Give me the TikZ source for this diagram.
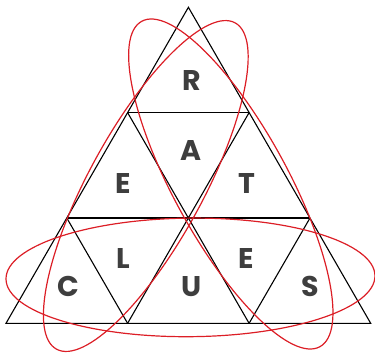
\documentclass[tikz,border=0pt]{standalone}
\usepackage{fontspec}
\setmainfont{Poppins}
\usetikzlibrary{positioning}
\definecolor{clueRed}{RGB}{220,30,38}
\definecolor{letterGray}{RGB}{62,62,62}

\begin{document}
\begin{tikzpicture}[x=1pt,y=-1pt,
  grid line/.style={draw=black, line width=1.1pt},
  ring line/.style={draw=clueRed, line width=1.2pt},
  letter node/.style={font=\bfseries\fontsize{28.5}{28.5}\selectfont,
    text=letterGray, inner sep=0pt}
  ]
  \useasboundingbox (0,0) rectangle (375,354);

  % corners of the small triangles
  \coordinate (top) at (188.4,7.3);
  \coordinate (l1) at (127.6,112.6);
  \coordinate (r1) at (249.1,112.6);
  \coordinate (l2) at (66.8,218);
  \coordinate (m2) at (188.4,218);
  \coordinate (r2) at (310,218);
  \coordinate (bl) at (6,323.3);
  \coordinate (b1) at (127.6,323.3);
  \coordinate (b2) at (249.1,323.3);
  \coordinate (br) at (370.7,323.3);

  \draw[grid line] (top) -- (br) -- (bl) -- cycle;
  \draw[grid line] (l1) -- (r1) (l2) -- (r2);
  \draw[grid line] (l1) -- (b2) (r1) -- (b1);
  \draw[grid line] (l2) -- (b1) (r2) -- (b2);

  % letters
  \node[letter node] (r) at (191.5,80) {R};
  \node[letter node] (a) at (191.5,150) {A};
  \node[letter node] (e1) at (123.5,183.3) {E};
  \node[letter node] (t) at (246.5,183.3) {T};
  \node[letter node] (l) at (123.5,258.3) {L};
  \node[letter node] (e2) at (246.5,258.3) {E};
  \node[letter node] (c) at (68.5,286.7) {C};
  \node[letter node] (u) at (191.5,286.7) {U};
  \node[letter node] (s) at (310,286.7) {S};

  % the three rings
  \coordinate (ringB) at (190.5,277.4);
  \coordinate (ringL) at (145.8,186);
  \coordinate (ringR) at (230.8,184);
  \draw[ring line, rotate around={0.5:(ringB)}] (ringB)
    ellipse [x radius=184.5, y radius=59.3];
  \draw[ring line, rotate around={61.3:(ringL)}] (ringL)
    ellipse [x radius=186, y radius=57];
  \draw[ring line, rotate around={-61.3:(ringR)}] (ringR)
    ellipse [x radius=185.5, y radius=57];
\end{tikzpicture}
\end{document}
